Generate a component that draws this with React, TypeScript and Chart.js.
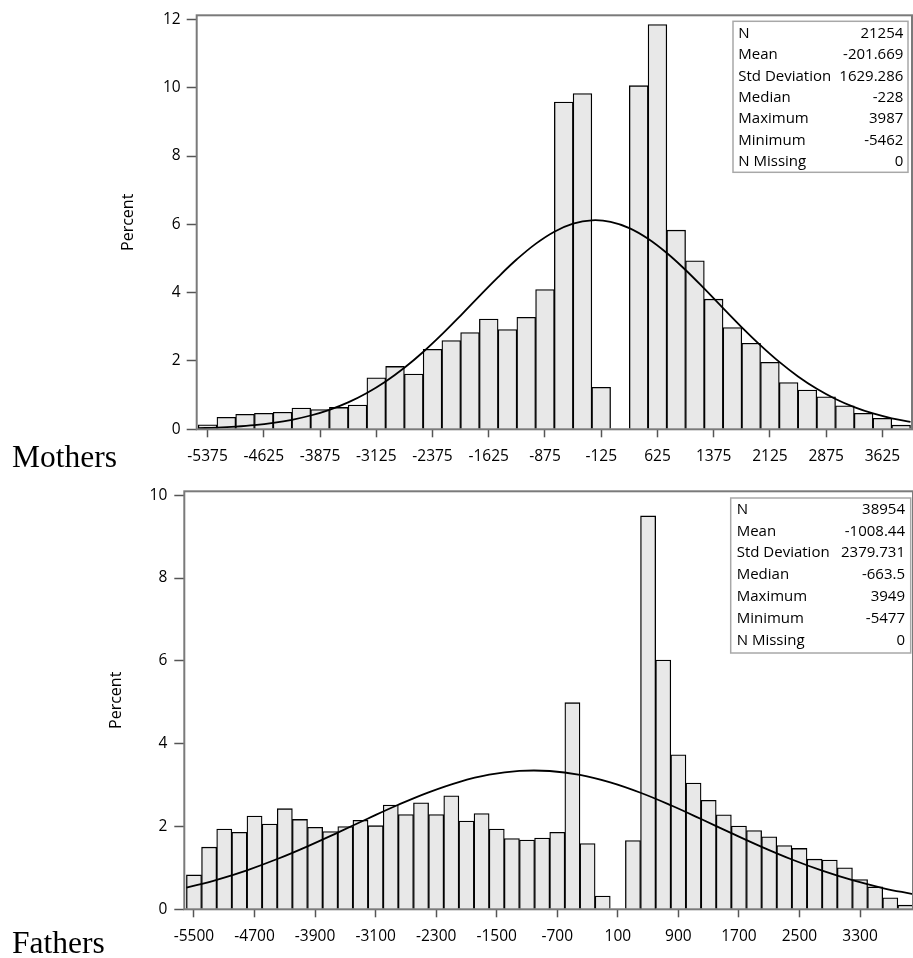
import React, { useEffect, useRef } from 'react';
import { Chart, registerables } from 'chart.js';

Chart.register(...registerables);

// ---------- Mothers ----------
const motherBinCenters = [
  -5375, -5125, -4875, -4625, -4375, -4125, -3875, -3625, -3375, -3125,
  -2875, -2625, -2375, -2125, -1875, -1625, -1375, -1125, -875, -625,
  -375, -125, 125, 375, 625, 875, 1125, 1375, 1625, 1875,
  2125, 2375, 2625, 2875, 3125, 3375, 3625, 3875,
];
const motherPercents = [
  0.13, 0.35, 0.44, 0.47, 0.5, 0.62, 0.58, 0.64, 0.71, 1.51,
  1.84, 1.62, 2.34, 2.6, 2.83, 3.23, 2.92, 3.28, 4.09, 9.58,
  9.83, 1.23, null, 10.06, 11.85, 5.83, 4.93, 3.81, 2.98, 2.52,
  1.96, 1.37, 1.15, 0.95, 0.69, 0.47, 0.32, 0.12,
];
const motherTickValues = [-5375, -4625, -3875, -3125, -2375, -1625, -875, -125, 625, 1375, 2125, 2875, 3625];
const motherPercentTicks = [0, 2, 4, 6, 8, 10, 12];
const motherCurveX = [
  -5500, -5250, -5000, -4750, -4500, -4250, -4000, -3750, -3500, -3250,
  -3000, -2750, -2500, -2250, -2000, -1750, -1500, -1250, -1000, -750,
  -500, -250, 0, 250, 500, 750, 1000, 1250, 1500, 1750,
  2000, 2250, 2500, 2750, 3000, 3250, 3500, 3750, 4000,
];
const motherCurveY = [
  0.031, 0.05, 0.08, 0.124, 0.189, 0.279, 0.404, 0.571, 0.789, 1.064,
  1.401, 1.802, 2.263, 2.777, 3.329, 3.898, 4.457, 4.977, 5.429, 5.785,
  6.02, 6.119, 6.075, 5.891, 5.579, 5.161, 4.664, 4.116, 3.548, 2.987,
  2.457, 1.973, 1.548, 1.186, 0.888, 0.649, 0.463, 0.323, 0.22,
];
const motherStatValues = ['21254', '-201.669', '1629.286', '-228', '3987', '-5462', '0'];

// ---------- Fathers ----------
const fatherBinCenters = [
  -5500, -5300, -5100, -4900, -4700, -4500, -4300, -4100, -3900, -3700,
  -3500, -3300, -3100, -2900, -2700, -2500, -2300, -2100, -1900, -1700,
  -1500, -1300, -1100, -900, -700, -500, -300, -100, 100, 300,
  500, 700, 900, 1100, 1300, 1500, 1700, 1900, 2100, 2300,
  2500, 2700, 2900, 3100, 3300, 3500, 3700, 3900,
];
const fatherPercents = [
  0.83, 1.5, 1.94, 1.86, 2.25, 2.06, 2.43, 2.17, 1.98, 1.88,
  2.0, 2.15, 2.02, 2.52, 2.29, 2.57, 2.29, 2.74, 2.13, 2.31,
  1.94, 1.71, 1.67, 1.72, 1.86, 4.99, 1.59, 0.32, null, 1.66,
  9.5, 6.02, 3.73, 3.05, 2.63, 2.28, 2.01, 1.9, 1.75, 1.54,
  1.47, 1.21, 1.19, 1.0, 0.72, 0.54, 0.28, 0.1,
];
const fatherTickValues = [-5500, -4700, -3900, -3100, -2300, -1500, -700, 100, 900, 1700, 2500, 3300];
const fatherPercentTicks = [0, 2, 4, 6, 8, 10];
const fatherCurveX = [
  -5600, -5200, -4800, -4400, -4000, -3600, -3200, -2800, -2400, -2000,
  -1600, -1200, -800, -400, 0, 400, 800, 1200, 1600, 2000,
  2400, 2800, 3200, 3600, 4000,
];
const fatherCurveY = [
  0.521, 0.711, 0.942, 1.214, 1.521, 1.853, 2.194, 2.526, 2.826, 3.074,
  3.251, 3.342, 3.34, 3.245, 3.065, 2.814, 2.512, 2.18, 1.839, 1.508,
  1.202, 0.932, 0.702, 0.514, 0.366,
];
const fatherStatValues = ['38954', '-1008.44', '2379.731', '-663.5', '3949', '-5477', '0'];

const statLabels = ['N', 'Mean', 'Std Deviation', 'Median', 'Maximum', 'Minimum', 'N Missing'];

const SANS = '"Open Sans", "Noto Sans", sans-serif';

type Panel = {
  caption: string;
  captionBaseline: number;
  centers: number[];
  percents: (number | null)[];
  tickValues: number[];
  percentTicks: number[];
  curveX: number[];
  curveY: number[];
  stats: string[];
  xMin: number;
  xMax: number;
  yMax: number;
  canvasH: number;
  padTop: number;
  padRight: number;
  yAxisW: number;
  xAxisH: number;
  yTickPad: number;
  xTickPad: number;
  titlePad: number;
  box: { rightInset: number; topInset: number; w: number; h: number; firstRow: number; rowH: number; textL: number; textR: number };
};

const motherPanel: Panel = {
  caption: 'Mothers',
  captionBaseline: 466.7,
  centers: motherBinCenters,
  percents: motherPercents,
  tickValues: motherTickValues,
  percentTicks: motherPercentTicks,
  curveX: motherCurveX,
  curveY: motherCurveY,
  stats: motherStatValues,
  xMin: -5520,
  xMax: 4020,
  yMax: 12.12,
  canvasH: 475,
  padTop: 15,
  padRight: 1,
  yAxisW: 196.7,
  xAxisH: 45.7,
  yTickPad: 6,
  xTickPad: 9.5,
  titlePad: 119,
  box: { rightInset: 4, topInset: 6, w: 175, h: 151, firstRow: 12.3, rowH: 21.4, textL: 5.3, textR: 4.7 },
};

const fatherPanel: Panel = {
  caption: 'Fathers',
  captionBaseline: 478,
  centers: fatherBinCenters,
  percents: fatherPercents,
  tickValues: fatherTickValues,
  percentTicks: fatherPercentTicks,
  curveX: fatherCurveX,
  curveY: fatherCurveY,
  stats: fatherStatValues,
  xMin: -5628,
  xMax: 4000,
  yMax: 10.095,
  canvasH: 483,
  padTop: 10,
  padRight: 0,
  yAxisW: 184.3,
  xAxisH: 48.7,
  yTickPad: 7,
  xTickPad: 10,
  titlePad: 107,
  box: { rightInset: 2.3, topInset: 6.7, w: 180, h: 155, firstRow: 11.6, rowH: 21.8, textL: 6, textR: 5.7 },
};

function buildChart(canvas: HTMLCanvasElement, p: Panel) {
  const bars = p.centers.map((x, i) => ({ x, y: p.percents[i] }));
  const curve = p.curveX.map((x, i) => ({ x, y: p.curveY[i] }));

  const decor = {
    id: 'decor_' + p.caption,
    afterDatasetsDraw(chart: any) {
      const { ctx, chartArea: a } = chart;
      ctx.save();
      ctx.strokeStyle = '#7a7a7a';
      ctx.lineWidth = 2;
      ctx.strokeRect(a.left, a.top, a.right - a.left, a.bottom - a.top);

      const b = p.box;
      const bx = a.right - b.rightInset - b.w;
      const by = a.top + b.topInset;
      ctx.fillStyle = '#ffffff';
      ctx.fillRect(bx, by, b.w, b.h);
      ctx.strokeStyle = '#a8a8a8';
      ctx.lineWidth = 1.5;
      ctx.strokeRect(bx, by, b.w, b.h);
      ctx.fillStyle = '#000000';
      ctx.font = '15px ' + SANS;
      ctx.textBaseline = 'middle';
      statLabels.forEach((lab, i) => {
        const y = by + b.firstRow + i * b.rowH;
        ctx.textAlign = 'left';
        ctx.fillText(lab, bx + b.textL, y);
        ctx.textAlign = 'right';
        ctx.fillText(p.stats[i], bx + b.w - b.textR, y);
      });
      ctx.restore();
    },
    afterDraw(chart: any) {
      const { ctx } = chart;
      ctx.save();
      ctx.fillStyle = '#000000';
      ctx.font = '31.5px "Liberation Serif", "Times New Roman", serif';
      ctx.textAlign = 'left';
      ctx.textBaseline = 'alphabetic';
      ctx.fillText(p.caption, 12, p.captionBaseline);
      ctx.restore();
    },
  };

  return new Chart(canvas, {
    type: 'bar',
    data: {
      datasets: [
        {
          type: 'line',
          data: curve,
          borderColor: '#000000',
          borderWidth: 1.8,
          pointRadius: 0,
          tension: 0.4,
          fill: false,
          order: 0,
        } as any,
        {
          type: 'bar',
          data: bars,
          backgroundColor: '#e8e8e8',
          borderColor: '#000000',
          borderWidth: 1.3,
          barPercentage: 1,
          categoryPercentage: 1,
          order: 1,
        } as any,
      ],
    },
    options: {
      responsive: false,
      maintainAspectRatio: false,
      animation: false,
      layout: { autoPadding: false, padding: { top: p.padTop, right: p.padRight, left: 0, bottom: 0 } } as any,
      plugins: { legend: { display: false }, tooltip: { enabled: false } },
      scales: {
        x: {
          type: 'linear',
          min: p.xMin,
          max: p.xMax,
          offset: false,
          border: { display: false },
          grid: { display: true, offset: false, drawOnChartArea: false, drawTicks: true, tickLength: 8, tickColor: '#555555', tickWidth: 1.5 },
          ticks: {
            autoSkip: false,
            maxRotation: 0,
            padding: p.xTickPad,
            color: '#000000',
            font: { family: SANS, size: 15.5 },
            callback: (v: any) => String(v),
          },
          afterBuildTicks: (s: any) => {
            s.ticks = p.tickValues.map((v) => ({ value: v }));
          },
          afterFit: (s: any) => {
            s.height = p.xAxisH;
          },
        } as any,
        y: {
          type: 'linear',
          min: 0,
          max: p.yMax,
          border: { display: false },
          grid: { display: true, drawOnChartArea: false, drawTicks: true, tickLength: 10, tickColor: '#555555', tickWidth: 1.5 },
          ticks: {
            padding: p.yTickPad,
            color: '#000000',
            font: { family: SANS, size: 15.5 },
            callback: (v: any) => String(v),
          },
          title: {
            display: true,
            text: 'Percent',
            color: '#000000',
            font: { family: SANS, size: 16 },
            padding: { top: p.titlePad, bottom: 0 },
          },
          afterBuildTicks: (s: any) => {
            s.ticks = p.percentTicks.map((v) => ({ value: v }));
          },
          afterFit: (s: any) => {
            s.width = p.yAxisW;
          },
        } as any,
      },
    },
    plugins: [decor],
  } as any);
}

function HistPanel({ panel, top }: { panel: Panel; top: number }) {
  const ref = useRef<HTMLCanvasElement | null>(null);
  useEffect(() => {
    if (!ref.current) return;
    const chart = buildChart(ref.current, panel);
    return () => chart.destroy();
  }, [panel]);
  return (
    <canvas
      ref={ref}
      width={913}
      height={panel.canvasH}
      style={{ position: 'absolute', left: 0, top, width: 913, height: panel.canvasH, display: 'block' }}
    />
  );
}

export default function App() {
  return (
    <div style={{ position: 'absolute', left: 0, top: 0, width: 913, height: 958, background: '#ffffff', overflow: 'hidden' }}>
      <HistPanel panel={motherPanel} top={0} />
      <HistPanel panel={fatherPanel} top={475} />
    </div>
  );
}
